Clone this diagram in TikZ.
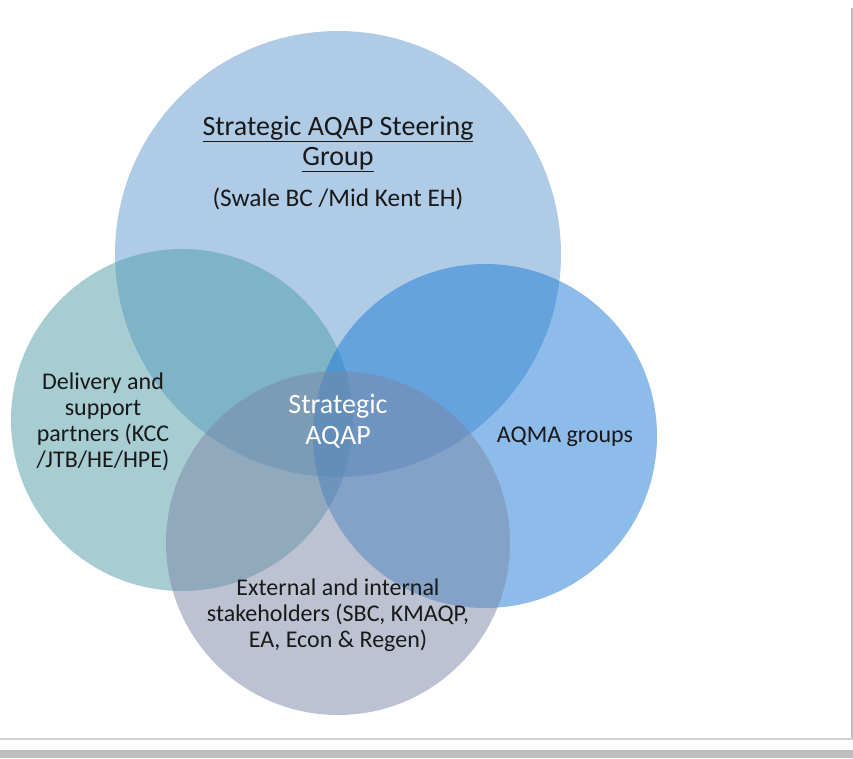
\documentclass[tikz,border=0pt]{standalone}
\usepackage{fontspec}
\setmainfont{Carlito}
\definecolor{ctop}{RGB}{97,153,207}
\definecolor{cleft}{RGB}{81,157,169}
\definecolor{cright}{RGB}{31,123,215}
\definecolor{cbot}{RGB}{123,135,167}
\definecolor{frameg}{RGB}{190,190,190}
\tikzset{
  venn/.style={circle, fill opacity=0.5, draw=none, inner sep=0pt},
  lbl/.style={align=center, font=\fontsize{18}{19.5}\selectfont, text=black!90},
}
\begin{document}
\begin{tikzpicture}[x=0.75pt,y=-0.75pt]
\useasboundingbox (0,0) rectangle (853,758);
\fill[white] (0,0) rectangle (853,758);
% frame
\fill[frameg] (851,8) rectangle (853,740);
\fill[frameg!70] (0,738) rectangle (853,740);
\fill[frameg] (0,750) rectangle (853,758);
% circles
\node[venn, fill=ctop, minimum size=446*0.75pt] (top) at (338,254) {};
\node[venn, fill=cleft, minimum size=342*0.75pt] (left) at (182,420) {};
\node[venn, fill=cright, minimum size=344*0.75pt] (right) at (485,436) {};
\node[venn, fill=cbot, minimum size=344*0.75pt] (bot) at (338,543) {};
% labels
\node[lbl, font=\fontsize{21}{22.5}\selectfont] (ttl) at (338,144) {\underline{Strategic AQAP Steering}\\\underline{Group}};
\node[lbl, font=\fontsize{19}{21}\selectfont] (tsub) at (338,199) {(Swale BC /Mid Kent EH)};
\node[lbl] (ltxt) at (103,422) {Delivery and\\support\\partners (KCC\\/JTB/HE/HPE)};
\node[lbl] (rtxt) at (565,437) {AQMA groups};
\node[lbl] (btxt) at (338,615) {External and internal\\stakeholders (SBC, KMAQP,\\EA, Econ \& Regen)};
\node[lbl, text=white, font=\fontsize{21}{23}\selectfont] (ctr) at (338,421) {Strategic\\AQAP};
\end{tikzpicture}
\end{document}
